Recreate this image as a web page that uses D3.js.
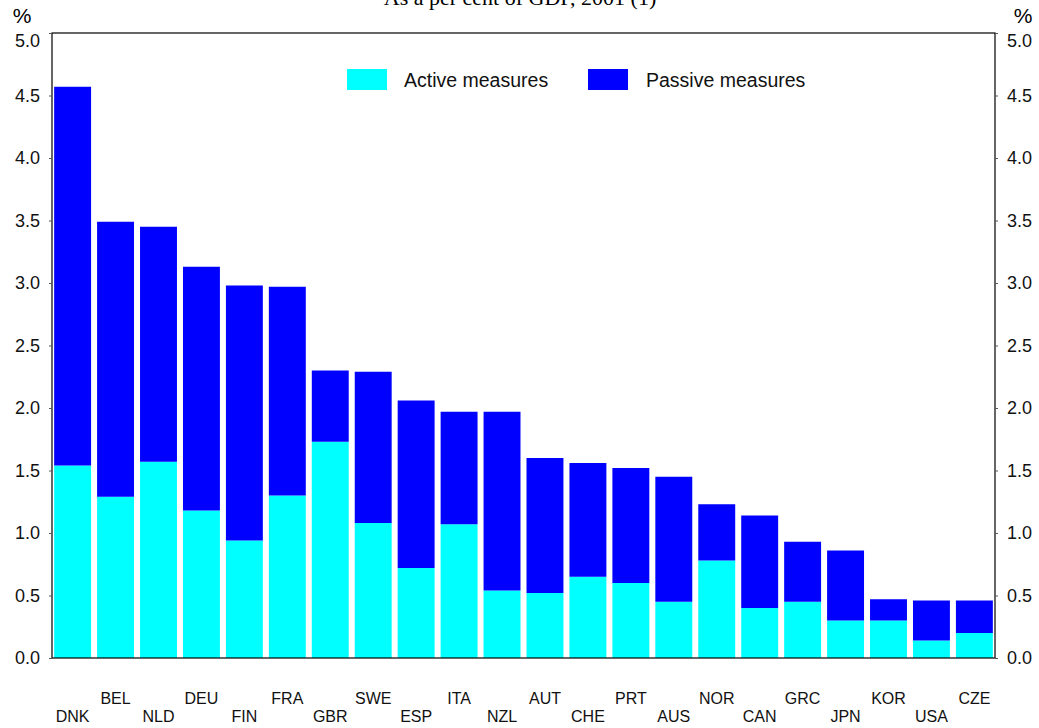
<!DOCTYPE html>
<html>
<head>
<meta charset="utf-8">
<script src="https://cdn.jsdelivr.net/npm/d3@7"></script>
<style>
  body { margin: 0; background: #fff; }
  svg { display: block; font-family: "Liberation Sans", Arial, sans-serif; }
</style>
</head>
<body>
<div id="chart"></div>
<script>
width = 1039
height = 728

//countries, in chart order
var countries = ["DNK","BEL","NLD","DEU","FIN","FRA","GBR","SWE","ESP","ITA","NZL",
                 "AUT","CHE","PRT","AUS","NOR","CAN","GRC","JPN","KOR","USA","CZE"];
//spending, % of GDP
var active  = [1.54,1.29,1.57,1.18,0.94,1.30,1.73,1.08,0.72,1.07,0.54,
               0.52,0.65,0.60,0.45,0.78,0.40,0.45,0.30,0.30,0.14,0.20];
var passive = [3.03,2.20,1.88,1.95,2.04,1.67,0.57,1.21,1.34,0.90,1.43,
               1.08,0.91,0.92,1.00,0.45,0.74,0.48,0.56,0.17,0.32,0.26];
var yTicks = [0,0.5,1,1.5,2,2.5,3,3.5,4,4.5,5];

var margin = {top: 33, right: 44, bottom: 70, left: 52};

var svg = d3.select("#chart").append("svg")
    .attr("width", width)
    .attr("height", height);

var x = d3.scaleBand()
    .domain(countries)
    .range([margin.left, width - margin.right])
    .paddingInner(0.14)
    .paddingOuter(0.05);

var y = d3.scaleLinear()
    .domain([0, 5])
    .range([height - margin.bottom, margin.top]);

var color = d3.scaleOrdinal()
  .domain(["active", "passive"])
  .range(["#00ffff", "#0000ff"]);

//stack the two series
var rows = countries.map(function(c, i) { return {country: c, active: active[i], passive: passive[i]}; });
var series = d3.stack().keys(["active", "passive"])(rows);

svg.append("g")
  .selectAll("g")
  .data(series)
  .join("g")
    .attr("fill", function(d) { return color(d.key); })
  .selectAll("rect")
  .data(function(d) { return d; })
  .join("rect")
    .attr("x", function(d) { return x(d.data.country); })
    .attr("y", function(d) { return y(d[1]); })
    .attr("height", function(d) { return y(d[0]) - y(d[1]); })
    .attr("width", x.bandwidth());

//frame
svg.append("rect")
    .attr("x", margin.left).attr("y", margin.top)
    .attr("width", width - margin.left - margin.right)
    .attr("height", height - margin.top - margin.bottom)
    .attr("fill", "none")
    .attr("stroke", "#000")
    .attr("stroke-width", 1.2);

//left and right axes
var yl = svg.append("g")
    .attr("transform", "translate(" + margin.left + ",0)")
    .call(d3.axisLeft(y).tickValues(yTicks).tickFormat(d3.format(".1f")).tickSize(3).tickPadding(9));
var yr = svg.append("g")
    .attr("transform", "translate(" + (width - margin.right) + ",0)")
    .call(d3.axisRight(y).tickValues(yTicks).tickFormat(d3.format(".1f")).tickSize(3).tickPadding(9));
[yl, yr].forEach(function(a) {
  a.select(".domain").remove();
  a.selectAll("text").style("font-size", "18px").attr("fill", "#111")
   .style("font-family", "'Liberation Sans', Arial, sans-serif");
  a.selectAll("line").attr("stroke", "#555");
  //top label sits a little below the frame edge
  a.selectAll(".tick").filter(function(d) { return d === 5; }).select("text").attr("dy", "0.32em").attr("y", 8);
});

//country labels, staggered on two rows
svg.append("g")
  .selectAll("text")
  .data(countries)
  .join("text")
    .attr("x", function(d) { return x(d) + x.bandwidth() / 2; })
    .attr("y", function(d, i) { return i % 2 === 0 ? 722 : 704; })
    .attr("text-anchor", "middle")
    .attr("fill", "#111")
    .style("font-size", "16px")
    .text(function(d) { return d; });

//unit labels
svg.append("text").attr("x", 22).attr("y", 23).attr("text-anchor", "middle").style("font-size", "21px").text("%");
svg.append("text").attr("x", 1023).attr("y", 23).attr("text-anchor", "middle").style("font-size", "21px").text("%");

//subtitle, partly cut off at the top
svg.append("text")
    .attr("x", 520).attr("y", 5)
    .attr("text-anchor", "middle")
    .style("font-family", "'Liberation Serif', 'Times New Roman', serif")
    .style("font-size", "22px")
    .text("As a per cent of GDP, 2001 (1)");

//legend
svg.append("rect").attr("x", 347).attr("y", 69).attr("width", 40).attr("height", 21).style("fill", color("active"))
svg.append("rect").attr("x", 588).attr("y", 69).attr("width", 40).attr("height", 21).style("fill", color("passive"))
svg.append("text").attr("x", 404).attr("y", 87).text("Active measures").style("font-size", "19.5px").attr("fill", "#111")
svg.append("text").attr("x", 646).attr("y", 87).text("Passive measures").style("font-size", "19.5px").attr("fill", "#111")
</script>
</body>
</html>
